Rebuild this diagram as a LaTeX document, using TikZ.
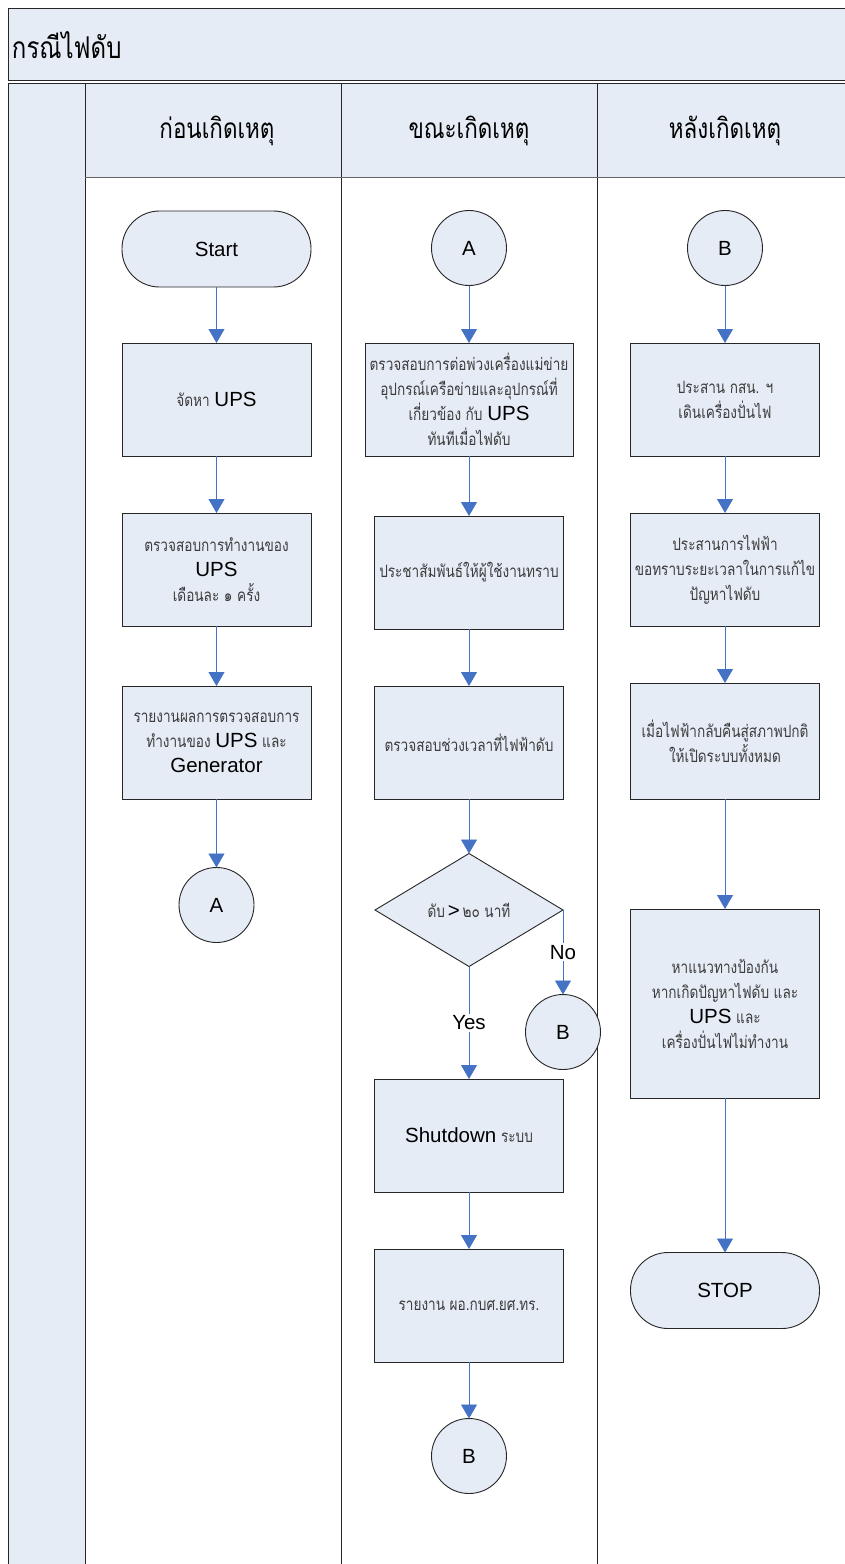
\documentclass[tikz,border=0pt]{standalone}
\usepackage{fontspec}
\setmainfont{Liberation Sans}
\newfontfamily\thaifont[Script=Thai,FakeStretch=0.8]{Loma}
\usetikzlibrary{arrows.meta,shapes.geometric}

\definecolor{paleblue}{RGB}{230,236,246}
\definecolor{flowblue}{RGB}{68,114,196}
\definecolor{thaigrey}{RGB}{60,60,60}

% Thai text inside boxes
\newcommand\tb[1]{{\thaifont\fontsize{17}{25}\selectfont\color{thaigrey}#1}}
% Latin words inside boxes
\newcommand\lt[1]{{\fontsize{20.5}{25}\selectfont #1}}

\tikzset{
  every node/.style={inner sep=0pt, outer sep=0pt},
  stepbox/.style={draw=black!85, line width=0.9pt, fill=paleblue, rectangle,
    minimum width=189pt, minimum height=113pt, align=center,
    font=\fontsize{17}{25}\selectfont},
  terminal/.style={draw=black!85, line width=0.9pt, fill=paleblue, rectangle,
    rounded corners=37.5pt, minimum width=189pt, minimum height=76pt,
    font=\fontsize{20.5}{24}\selectfont},
  connector/.style={draw=black!85, line width=0.9pt, fill=paleblue, circle,
    minimum size=75pt, font=\fontsize{20.5}{24}\selectfont},
  decision/.style={draw=black!85, line width=0.9pt, fill=paleblue, diamond,
    aspect=1.66, minimum width=188pt, minimum height=113pt},
  flow/.style={draw=flowblue, line width=0.8pt,
    -{Triangle[width=16pt,length=14pt,fill=flowblue]}},
  flowlabel/.style={fill=white, font=\fontsize{20.5}{24}\selectfont, inner sep=2pt},
  lane/.style={draw=black!85, line width=0.9pt},
  lanehead/.style={font=\thaifont\fontsize{28}{28}\selectfont},
}

\begin{document}
\begin{tikzpicture}[x=1pt,y=-1pt]
\useasboundingbox (0,0) rectangle (844,1564);

% title band
\fill[paleblue] (8,8) rectangle (850,80);
\draw[lane] (850,8) -- (8,8) -- (8,80) -- (850,80);
\node[anchor=west] (title) at (12,45) {\thaifont\fontsize{30}{30}\selectfont กรณีไฟดับ};

% swim-lane frame
\fill[paleblue] (8,83) rectangle (85,1570);
\fill[paleblue] (85,83) rectangle (850,177);
\draw[lane] (8,83) -- (850,83);
\draw[lane] (8,83) -- (8,1570);
\draw[lane] (85,83) -- (85,1570);
\draw[lane] (341,83) -- (341,1570);
\draw[lane] (597,83) -- (597,1570);
\draw[draw=black!60, line width=0.9pt] (85,177) -- (850,177);

\node[lanehead] (h1) at (217,131) {ก่อนเกิดเหตุ};
\node[lanehead] (h2) at (469,131) {ขณะเกิดเหตุ};
\node[lanehead] (h3) at (725,131) {หลังเกิดเหตุ};

% lane 1: before the outage
\node[terminal] (start) at (216.5,249) {Start};
\node[stepbox] (b1) at (216.5,399.5) {\tb{จัดหา} \lt{UPS}};
\node[stepbox] (b2) at (216.5,569.5) {\tb{ตรวจสอบการทำงานของ}\\ \lt{UPS}\\ \tb{เดือนละ ๑ ครั้ง}};
\node[stepbox] (b3) at (216.5,742.5) {\tb{รายงานผลการตรวจสอบการ}\\ \tb{ทำงานของ} \lt{UPS} \tb{และ}\\ \lt{Generator}};
\node[connector] (a1) at (216.5,905) {A};

\draw[flow] (start) -- (b1);
\draw[flow] (b1) -- (b2);
\draw[flow] (b2) -- (b3);
\draw[flow] (b3) -- (a1);

% lane 2: during the outage
\node[connector] (a2) at (469,248) {A};
\node[stepbox, minimum width=208pt] (m1) at (469,399.5) {\tb{ตรวจสอบการต่อพ่วงเครื่องแม่ข่าย}\\ \tb{อุปกรณ์เครือข่ายและอุปกรณ์ที่}\\ \tb{เกี่ยวข้อง กับ} \lt{UPS}\\ \tb{ทันทีเมื่อไฟดับ}};
\node[stepbox] (m2) at (469,572.5) {\tb{ประชาสัมพันธ์ให้ผู้ใช้งานทราบ}};
\node[stepbox] (m3) at (469,742.5) {\tb{ตรวจสอบช่วงเวลาที่ไฟฟ้าดับ}};
\node[decision] (d) at (469,910) {\tb{ดับ} \lt{>} \tb{๒๐ นาที}};
\node[connector] (bno) at (563,1032) {B};
\node[stepbox] (m4) at (469,1135.5) {\lt{Shutdown} \tb{ระบบ}};
\node[stepbox] (m5) at (469,1305.5) {\tb{รายงาน ผอ.กบศ.ยศ.ทร.}};
\node[connector] (b2c) at (469,1456) {B};

\draw[flow] (a2) -- (m1);
\draw[flow] (m1) -- (m2);
\draw[flow] (m2) -- (m3);
\draw[flow] (m3) -- (d);
\draw[flow] (d.south) -- node[flowlabel] (yes) {Yes} (m4);
\draw[flow] (d.east) -- node[flowlabel, pos=0.5] (no) {No} (bno);
\draw[flow] (m4) -- (m5);
\draw[flow] (m5) -- (b2c);

% lane 3: after the outage
\node[connector] (b3c) at (725,248) {B};
\node[stepbox] (r1) at (725,399.5) {\tb{ประสาน กสน. ฯ}\\ \tb{เดินเครื่องปั่นไฟ}};
\node[stepbox] (r2) at (725,569.5) {\tb{ประสานการไฟฟ้า}\\ \tb{ขอทราบระยะเวลาในการแก้ไข}\\ \tb{ปัญหาไฟดับ}};
\node[stepbox, minimum height=116pt] (r3) at (725,741) {\tb{เมื่อไฟฟ้ากลับคืนสู่สภาพปกติ}\\ \tb{ให้เปิดระบบทั้งหมด}};
\node[stepbox, minimum height=189pt] (r4) at (725,1003.5) {\tb{หาแนวทางป้องกัน}\\ \tb{หากเกิดปัญหาไฟดับ และ}\\ \lt{UPS} \tb{และ}\\ \tb{เครื่องปั่นไฟไม่ทำงาน}};
\node[terminal] (stop) at (725,1290.5) {STOP};

\draw[flow] (b3c) -- (r1);
\draw[flow] (r1) -- (r2);
\draw[flow] (r2) -- (r3);
\draw[flow] (r3) -- (r4);
\draw[flow] (r4) -- (stop);
\end{tikzpicture}
\end{document}
